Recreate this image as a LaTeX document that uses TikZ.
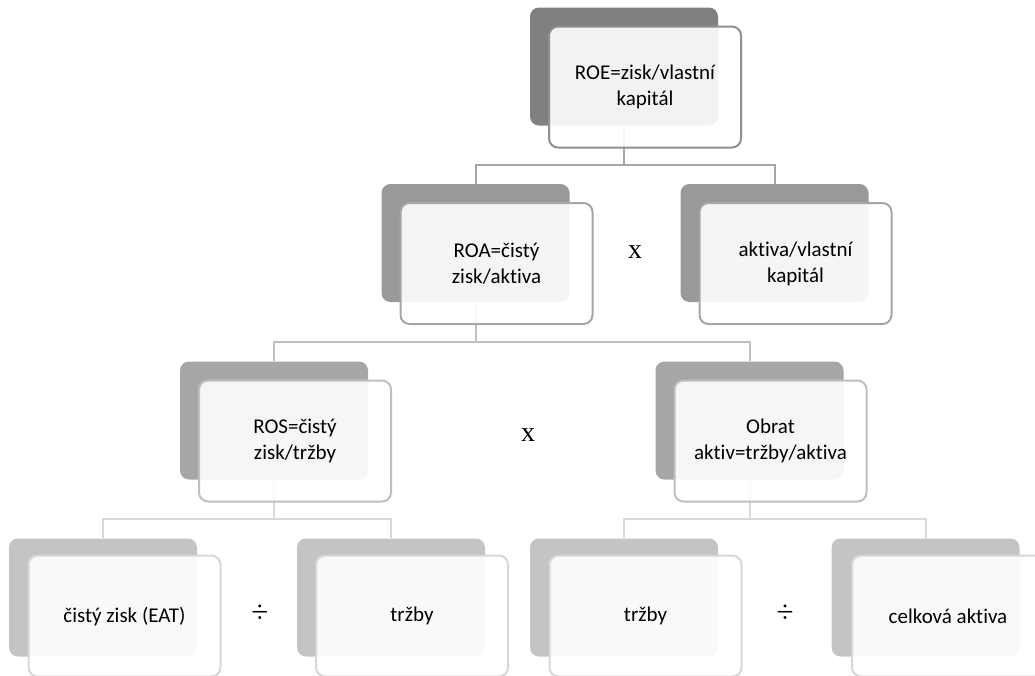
\documentclass[tikz,border=0pt]{standalone}
\usepackage{fontspec}
\setmainfont{Carlito}[Ligatures=NoCommon]
\newfontfamily\serifx{Liberation Serif}
\usetikzlibrary{positioning}
\definecolor{backA}{HTML}{808080}
\definecolor{backB}{HTML}{999999}
\definecolor{backC}{HTML}{A6A6A6}
\definecolor{backD}{HTML}{C4C4C4}
\definecolor{lineA}{HTML}{8F8F8F}
\definecolor{lineB}{HTML}{A6A6A6}
\definecolor{lineC}{HTML}{BFBFBF}
\definecolor{lineD}{HTML}{D6D6D6}
\definecolor{connA}{HTML}{A6A6A6}
\definecolor{connB}{HTML}{C0C0C0}
\definecolor{connC}{HTML}{D9D9D9}
\tikzset{
  backbox/.style={draw=none, fill=#1, rounded corners=9pt, minimum width=188pt, minimum height=118pt, inner sep=0pt},
  frontbox/.style={draw=#1, line width=2pt, fill=white, fill opacity=0.9, text opacity=1, rounded corners=9pt,
     minimum width=192pt, minimum height=121pt, inner sep=0pt, align=center,
     font=\fontsize{21}{26}\selectfont},
  conn/.style={draw=#1, line width=2pt},
  opsign/.style={font=\serifx\fontsize{28}{30}\selectfont, inner sep=0pt},
  divsign/.style={font=\serifx\fontsize{31}{32}\selectfont, inner sep=0pt}
}
\begin{document}
\begin{tikzpicture}[x=1pt,y=-1pt]
\useasboundingbox (0,0) rectangle (1035,675);
\clip (0,0) rectangle (1035,675);
% back boxes
\node[backbox=backA] (Ab) at (624,66.5) {};
\node[backbox=backB] (Bb) at (475.5,243) {};
\node[backbox=backB] (Cb) at (774.5,243) {};
\node[backbox=backC] (Db) at (274,420.5) {};
\node[backbox=backC] (Eb) at (749.5,420.5) {};
\node[backbox=backD] (Fb) at (103,597.5) {};
\node[backbox=backD] (Gb) at (391,597.5) {};
\node[backbox=backD] (Hb) at (624,597.5) {};
\node[backbox=backD] (Ib) at (925.5,597.5) {};
% connectors
\coordinate (j1) at (624,165);
\coordinate (j2) at (475.5,342);
\coordinate (j3) at (274,519);
\coordinate (j4) at (749.5,519);
\draw[conn=connA] (Ab.south) -- (j1);
\draw[conn=connA] (j1) -| (Bb.north);
\draw[conn=connA] (j1) -| (Cb.north);
\draw[conn=connB] (Bb.south) -- (j2);
\draw[conn=connB] (j2) -| (Db.north);
\draw[conn=connB] (j2) -| (Eb.north);
\draw[conn=connC] (Db.south) -- (j3);
\draw[conn=connC] (j3) -| (Fb.north);
\draw[conn=connC] (j3) -| (Gb.north);
\draw[conn=connC] (Eb.south) -- (j4);
\draw[conn=connC] (j4) -| (Hb.north);
\draw[conn=connC] (j4) -| (Ib.north);
% front boxes
\node[frontbox=lineA] (A) at (645,87) {ROE=zisk/vlastní\\kapitál};
\node[frontbox=lineB] (B) at (496.5,263.5) {ROA=čistý\\zisk/aktiva};
\node[frontbox=lineB] (C) at (795.5,263.5) {aktiva/vlastní\\kapitál};
\node[frontbox=lineC] (D) at (295,441) {ROS=čistý\\zisk/tržby};
\node[frontbox=lineC] (E) at (770.5,441) {Obrat\\aktiv=tržby/aktiva};
\node[frontbox=lineD] (F) at (124.5,616) {čistý zisk (EAT)};
\node[frontbox=lineD] (G) at (412,616) {tržby};
\node[frontbox=lineD] (H) at (645.5,616) {tržby};
\node[frontbox=lineD] (I) at (948,616) {celková aktiva};
% operators
\node[opsign] (x1) at (635,252) {x};
\node[opsign] (x2) at (528,435) {x};
\node[divsign] (d1) at (260,614) {÷};
\node[divsign] (d2) at (785,614) {÷};
\end{tikzpicture}
\end{document}
